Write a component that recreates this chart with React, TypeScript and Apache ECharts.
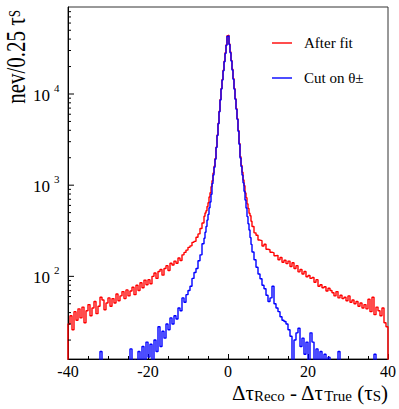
import React, { useEffect, useRef } from "react";
import * as echarts from "echarts";

// ---------- axis ranges & tick labels ----------
const X_MIN = -40;
const X_MAX = 40;
const X_INTERVAL = 20;
const Y_MIN = 12.4;
const Y_MAX = 90000;
const FLOOR = 1; // histogram edges drop to the floor (below the axis minimum)

const yDecadeValues = [100, 1000, 10000];
const yDecadeExponents = ["2", "3", "4"];
const yMinorTickValues = [
  20, 30, 40, 50, 60, 70, 80, 90,
  200, 300, 400, 500, 600, 700, 800, 900,
  2000, 3000, 4000, 5000, 6000, 7000, 8000, 9000,
  20000, 30000, 40000, 50000, 60000, 70000, 80000,
];

const seriesNames = ["After fit", "Cut on θ±"];
const seriesColors = ["#ff0000", "#0000ff"];

// ---------- binning ----------
const LEFT_START = -40; // 0.5-wide bins from -40 to -6
const CORE_START = -6; // 0.25-wide bins from -6 to 6
const RIGHT_START = 6; // 0.5-wide bins from 6 to 40
const TAIL_BIN = 0.5;
const CORE_BIN = 0.25;

// ---------- "After fit" (red) ----------
const redLeft = [
  30, 37, 26, 41, 33, 44, 35, 46, 31, 42, 49, 37, 45, 53, 39, 47, 59, 55, 43, 51,
  58, 47, 57, 51, 64, 54, 61, 68, 57, 71, 61, 69, 76, 63, 80, 70, 85, 75, 91, 81,
  92, 83, 100, 109, 95, 113, 119, 103, 122, 131, 116, 139, 133, 147, 139, 159, 149, 172, 183, 194,
  208, 216, 236, 242, 268, 292, 335, 385,
];
const redCore = [
  457, 496, 524, 583, 641, 741, 826, 962, 1118, 1356,
  1610, 1962, 2615, 3560, 4770, 6480, 8690, 11500, 14400, 18250,
  22850, 28300, 34600, 43500, 44200, 35400, 28900, 23300, 18650, 14750,
  11520, 8880, 6920, 5350, 3990, 2870, 2050, 1650, 1385, 1140,
  985, 822, 730, 624, 556, 493, 462, 402,
];
const redRight = [
  352, 300, 282, 250, 246, 215, 225, 198,
  196, 184, 181, 168, 170, 152, 161, 143, 150, 138, 147, 128, 141, 122, 131, 112, 119, 106, 113, 99,
  102, 95, 97, 86, 92, 78, 81, 75, 77, 69, 74, 70, 66, 61, 68, 58, 62, 57, 59, 54,
  61, 52, 55, 50, 53, 47, 51, 45, 49, 44, 56, 41, 59, 38, 46, 42, 37, 45, 31, 28,
];

// ---------- "Cut on θ±" (blue) ----------
const blueLeft = [
  2, 1, 3, 2, 1, 4, 2, 3, 2, 3, 4, 2, 5, 3, 4, 3, 15, 4, 5, 3,
  6, 5, 4, 7, 5, 6, 8, 6, 7, 9, 9, 16, 8, 12, 7, 15, 10, 17, 12, 19,
  13, 18, 11, 20, 15, 28, 17, 25, 21, 30, 26, 35, 30, 37, 34, 45, 42, 58, 52, 63,
  70, 78, 95, 110, 122, 148, 172, 228,
];
const blueCore = [
  262, 304, 352, 414, 478, 565, 655, 795, 1040, 1295,
  1575, 1925, 2590, 3510, 4720, 6390, 8600, 11330, 14200, 17950,
  22550, 27750, 34150, 42900, 43550, 34900, 28350, 23000, 18320, 14480,
  11300, 8760, 6790, 5270, 3900, 2810, 1990, 1600, 1290, 1060,
  858, 688, 562, 452, 378, 322, 266, 224,
];
const blueRight = [
  185, 152, 126, 106, 94, 80, 73, 62, 53, 58, 78, 50, 45, 41, 36, 33, 32, 30, 26, 22,
  11, 20, 24, 27, 17, 21, 14, 19, 12, 24, 19, 10, 16, 9, 15, 11, 14, 8, 13, 6,
  9, 5, 7, 15,
  6, 4, 8, 5, 3, 7, 4, 6, 3, 5, 4, 2, 5, 3, 4, 2, 3, 14, 4, 2, 3, 2, 1, 2,
];

function histPoints(left: number[], core: number[], right: number[]) {
  const pts: number[][] = [[X_MIN, FLOOR]];
  left.forEach((v, i) => pts.push([LEFT_START + i * TAIL_BIN, v]));
  core.forEach((v, i) => pts.push([CORE_START + i * CORE_BIN, v]));
  right.forEach((v, i) => pts.push([RIGHT_START + i * TAIL_BIN, v]));
  pts.push([X_MAX, FLOOR]);
  return pts;
}

const FONT = '"Liberation Serif", "Times New Roman", serif';

export default function App() {
  const ref = useRef<HTMLDivElement>(null);

  useEffect(() => {
    if (!ref.current) return;
    const chart = echarts.init(ref.current, undefined, { renderer: "svg" });

    const histSeries = [
      histPoints(redLeft, redCore, redRight),
      histPoints(blueLeft, blueCore, blueRight),
    ].map((data, k) => ({
      type: "line",
      name: seriesNames[k],
      data,
      step: "end",
      symbol: "none",
      clip: true,
      z: 3 + k,
      lineStyle: { color: seriesColors[k], width: 1.4 },
      itemStyle: { color: seriesColors[k] },
    }));

    const option: any = {
      animation: false,
      backgroundColor: "#ffffff",
      grid: {
        left: 68,
        right: 11,
        top: 7,
        bottom: 50,
        show: true,
        borderColor: "#333",
        borderWidth: 1,
        backgroundColor: "transparent",
      },
      xAxis: {
        type: "value",
        min: X_MIN,
        max: X_MAX,
        interval: X_INTERVAL,
        axisLine: { onZero: false, lineStyle: { color: "#000", width: 1 } },
        axisTick: { show: true, inside: true, length: 5, lineStyle: { color: "#000" } },
        minorTick: { show: true, splitNumber: 4, length: 3, lineStyle: { color: "#000" } },
        splitLine: { show: false },
        axisLabel: {
          color: "#000",
          fontFamily: FONT,
          fontSize: 16,
          margin: 4,
        },
      },
      yAxis: {
        type: "log",
        logBase: 10,
        min: Y_MIN,
        max: Y_MAX,
        axisLine: { show: true, onZero: false, lineStyle: { color: "#000", width: 1 } },
        axisTick: { show: false },
        axisLabel: { show: false },
        splitLine: { show: false },
        minorTick: { show: false },
      },
      series: [
        ...histSeries,
        {
          type: "custom",
          silent: true,
          clip: false,
          z: 6,
          data: yMinorTickValues.map((v) => [X_MIN, v]),
          renderItem: (params: any, api: any) => {
            const p = api.coord([api.value(0), api.value(1)]);
            return {
              type: "line",
              shape: { x1: p[0], y1: p[1], x2: p[0] + 3, y2: p[1] },
              style: { stroke: "#000", lineWidth: 1 },
            };
          },
        },
        {
          type: "custom",
          silent: true,
          clip: false,
          z: 6,
          data: yDecadeValues.map((v) => [X_MIN, v]),
          renderItem: (params: any, api: any) => {
            const p = api.coord([api.value(0), api.value(1)]);
            const exp = yDecadeExponents[params.dataIndex];
            return {
              type: "group",
              children: [
                {
                  type: "line",
                  shape: { x1: p[0], y1: p[1], x2: p[0] + 6, y2: p[1] },
                  style: { stroke: "#000", lineWidth: 1 },
                },
                {
                  type: "text",
                  x: p[0] - 18,
                  y: p[1] + 1,
                  style: {
                    text: "10",
                    fill: "#000",
                    font: `17px ${FONT}`,
                    align: "right",
                    textAlign: "right",
                    verticalAlign: "middle",
                    textVerticalAlign: "middle",
                  },
                },
                {
                  type: "text",
                  x: p[0] - 14,
                  y: p[1] - 6,
                  style: {
                    text: exp,
                    fill: "#000",
                    font: `11px ${FONT}`,
                    align: "left",
                    textAlign: "left",
                    verticalAlign: "middle",
                    textVerticalAlign: "middle",
                  },
                },
              ],
            };
          },
        },
      ],
      graphic: [
        // y-axis title (rotated)
        {
          type: "text",
          x: 3.5,
          y: 10,
          rotation: Math.PI / 2,
          scaleY: 1.25,
          style: {
            text: "{a|nev/0.25 τ}{s|S}",
            align: "right",
            textAlign: "right",
            verticalAlign: "top",
            textVerticalAlign: "top",
            rich: {
              a: { fontFamily: FONT, fontSize: 21, lineHeight: 21, verticalAlign: "bottom", fill: "#000", color: "#000" },
              s: { fontFamily: FONT, fontSize: 13, lineHeight: 13, padding: [2, 0, 0, 0], verticalAlign: "top", fill: "#000", color: "#000" },
            },
          },
        },
        // x-axis title
        {
          type: "text",
          right: 11,
          top: 381,
          style: {
            text: "{b|Δτ}{s|Reco}{b| - Δτ}{s|True}{b| (τ}{s|S}{b|)}",
            rich: {
              b: { fontFamily: FONT, fontSize: 21, lineHeight: 21, verticalAlign: "top", fill: "#000", color: "#000" },
              s: { fontFamily: FONT, fontSize: 15, lineHeight: 15, padding: [7, 0, 0, 0], verticalAlign: "bottom", fill: "#000", color: "#000" },
            },
          },
        },
        // legend
        {
          type: "line",
          shape: { x1: 272, y1: 43, x2: 292, y2: 43 },
          style: { stroke: seriesColors[0], lineWidth: 1.4 },
        },
        {
          type: "text",
          x: 304,
          y: 43,
          style: {
            text: seriesNames[0],
            fill: "#000",
            font: `15px ${FONT}`,
            verticalAlign: "middle",
            textVerticalAlign: "middle",
          },
        },
        {
          type: "line",
          shape: { x1: 272, y1: 78, x2: 292, y2: 78 },
          style: { stroke: seriesColors[1], lineWidth: 1.4 },
        },
        {
          type: "text",
          x: 304,
          y: 78,
          style: {
            text: seriesNames[1],
            fill: "#000",
            font: `15px ${FONT}`,
            verticalAlign: "middle",
            textVerticalAlign: "middle",
          },
        },
      ],
    };

    chart.setOption(option);
    return () => chart.dispose();
  }, []);

  return (
    <div
      ref={ref}
      style={{ position: "fixed", left: 0, top: 0, width: 399, height: 409, background: "#fff" }}
    />
  );
}
